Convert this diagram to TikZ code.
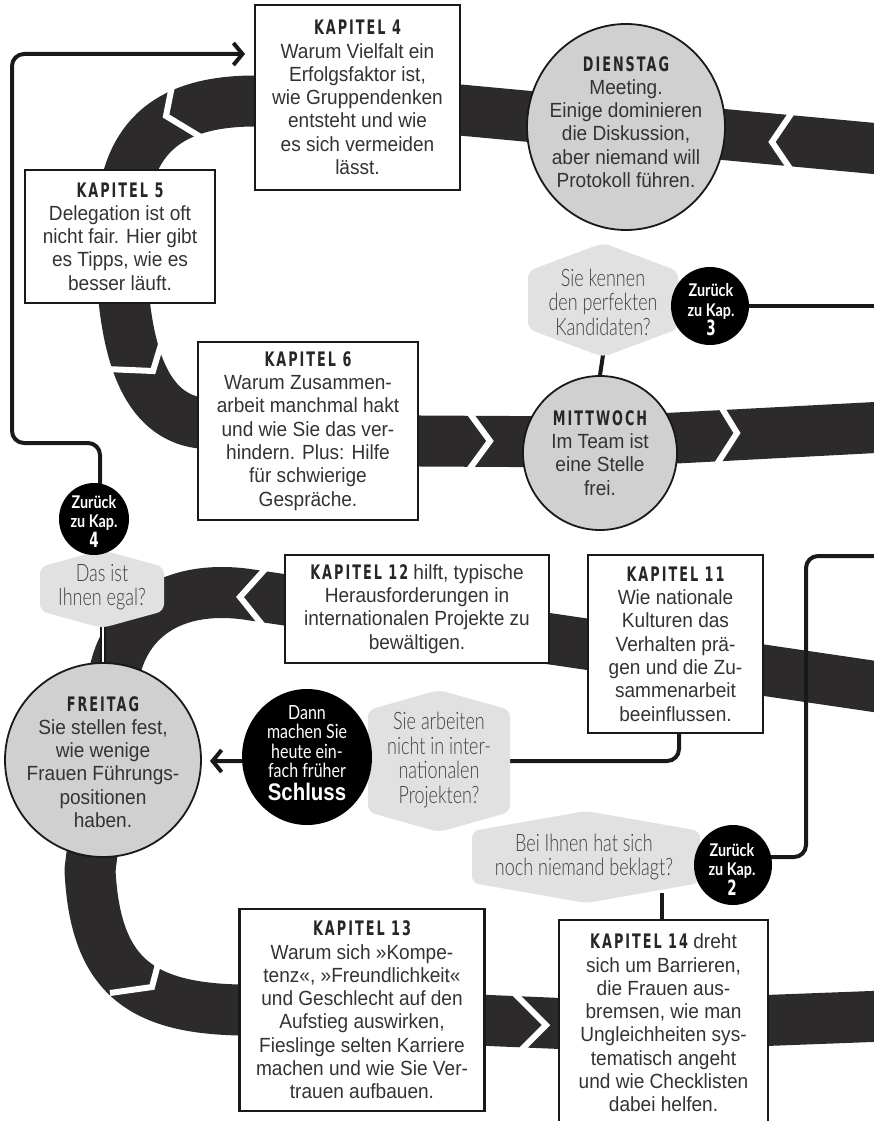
\documentclass[tikz,border=0pt]{standalone}
\usepackage{fontspec}
\setmainfont[FakeStretch=0.93]{Liberation Sans}
\newfontfamily\hdrfont[FakeStretch=0.64,LetterSpace=10]{DejaVu Sans}
\IfFontExistsTF{Lato Light}{\newfontfamily\handfont[FakeStretch=0.75]{Lato Light}}{\newfontfamily\handfont[FakeStretch=0.75]{Lato}}
\newfontfamily\handbold[FakeStretch=0.82]{Lato}
\newfontfamily\condfont[FakeStretch=0.85]{Liberation Sans}
\usetikzlibrary{shapes.geometric,arrows.meta}
\definecolor{band}{HTML}{2C2A2B}
\definecolor{textc}{HTML}{333333}
\definecolor{circgray}{HTML}{D0D0D0}
\definecolor{hexgray}{HTML}{E1E1E1}
\newcommand\bodyf{\fontsize{20.5}{23.3}\selectfont}
\newcommand\hd[1]{{\fontsize{20}{23.3}\hdrfont\bfseries\color{black!85}#1}}
\newcommand\hexa[5]{\fill[hexgray, rounded corners=7pt] ({#1},{#2-#4}) -- ({#1+#3},{#2-#4+#5}) -- ({#1+#3},{#2+#4-#5}) -- ({#1},{#2+#4}) -- ({#1-#3},{#2+#4-#5}) -- ({#1-#3},{#2-#4+#5}) -- cycle;}
\begin{document}
\begin{tikzpicture}[x=1pt,y=-1pt,
  bandline/.style={draw=band, line width=51pt, line cap=butt, line join=round},
  chev/.style={draw=white, line width=6pt, line join=miter, miter limit=10},
  conn/.style={draw=black!90, line width=4pt},
  box/.style={draw=black!90, line width=2.6pt, fill=white, inner sep=0pt, align=center, text=textc, font=\bodyf},
  gcirc/.style={ellipse, draw=black!90, line width=1.8pt, fill=circgray, inner sep=0pt},
  bcirc/.style={ellipse, fill=black, inner sep=0pt},
  txt/.style={align=center, text=textc, font=\bodyf, inner sep=0pt},
  htxt/.style={align=center, text=black!75, font={\fontsize{24}{24.5}\handfont}, inner sep=0pt},
  wtxt/.style={align=center, text=white, font={\fontsize{17.5}{19.5}\handbold\bfseries}, inner sep=0pt},
  barb/.style={-{Straight Barb[length=9pt,width=22pt]}}
]
\useasboundingbox (0,0) rectangle (874,1121);
\clip (0,0) rectangle (874,1121);

% ---- bands ----
\draw[bandline] (885,149.5) -- (460,110) -- (255,101) .. controls (155,101) and (121,150) .. (121,235) .. controls (121,340) and (140,415) .. (200,423) -- (420,441) -- (600,442) -- (885,427);
\draw[bandline] (885,688) -- (245,594) .. controls (165,584) and (117,625) .. (112,690) -- (90,870) .. controls (95,975) and (140,1008) .. (240,1010) -- (620,1026) -- (885,1016);

% ---- chevrons ----
\draw[chev] (795,108) -- (772,142) -- (795,176);
\draw[chev] (176,66) -- (166,116) -- (204,139);
\draw[chev] (166,328) -- (153,371) -- (106,369);
\draw[chev] (468,411) -- (490,441) -- (468,471);
\draw[chev] (718,402) -- (737,433) -- (717,464);
\draw[chev] (267,567) -- (240,597) -- (264,627);
\draw[chev] (163,945) -- (152,987) -- (110,993);
\draw[chev] (514,993) -- (546,1025) -- (516,1055);

% ---- coordinates ----
\coordinate (a4) at (245,54);
\coordinate (e3) at (885,306);
\coordinate (e2) at (885,556);
\coordinate (h1b) at (603,355);
\coordinate (h2b) at (103,626);
\coordinate (h4r) at (662,893);
\coordinate (k11b) at (679,733);
\coordinate (frin) at (210,761);
\coordinate (z2r) at (770,857);

% ---- circles (shapes only) ----
\node[gcirc, minimum width=198pt, minimum height=206pt] (di) at (626,127) {};
\node[gcirc, minimum width=154pt, minimum height=154pt] (mi) at (600,453) {};
\node[gcirc, minimum width=196pt, minimum height=194pt] (fr) at (103,760) {};

% ---- connectors ----
\draw[conn, rounded corners=12pt, barb] (100,484) -- (100,443) -- (12,443) -- (12,54) -- (a4);
\draw[conn, rounded corners=12pt, barb] (k11b) -- (679,761) -- (frin);
\draw[conn, rounded corners=12pt] (z2r) -- (806,857) -- (806,556) -- (e2);
\draw[conn] (710,306) -- (e3);
\draw[conn] (h1b) -- (mi.north);
\draw[black!90, line width=6.5pt] (h2b) -- (h2b |- fr.north);
\draw[white, line width=2.2pt] (h2b) -- (h2b |- fr.north);

% ---- hexagons ----
\hexa{603}{300}{75}{57}{28}
\hexa{102}{589}{62}{39}{17}
\hexa{439}{761}{71}{71}{20}
\hexa{586}{857}{114}{46}{20}
\draw[conn] (h4r) -- (662,922);

% ---- black circles ----
\node[bcirc, minimum width=78pt, minimum height=78pt] (z3) at (710,306) {};
\node[bcirc, minimum width=70pt, minimum height=72pt] (z4) at (94,519) {};
\node[bcirc, minimum width=78pt, minimum height=80pt] (z2) at (733,865) {};
\node[bcirc, minimum width=130pt, minimum height=136pt] (dann) at (307,757) {};

% ---- boxes ----
\node[box, minimum width=205pt, minimum height=185pt] (k4) at (357.5,97.5) {\hd{KAPITEL 4}\\Warum Vielfalt ein\\Erfolgsfaktor ist,\\wie Gruppendenken\\entsteht und wie\\es sich vermeiden\\lässt.};
\node[box, minimum width=190pt, minimum height=133pt] (k5) at (120,236.5) {\hd{KAPITEL 5}\\Delegation ist oft\\nicht fair. Hier gibt\\es Tipps, wie es\\besser läuft.};
\node[box, minimum width=220pt, minimum height=178pt] (k6) at (308,431) {\hd{KAPITEL 6}\\Warum Zusammen-\\arbeit manchmal hakt\\und wie Sie das ver-\\hindern. Plus: Hilfe\\für schwierige\\Gespräche.};
\node[box, minimum width=264pt, minimum height=108pt] (k12) at (417,609) {\hd{KAPITEL 12} hilft, typische\\Herausforderungen in\\internationalen Projekte zu\\bewältigen.};
\node[box, minimum width=175pt, minimum height=178pt] (k11) at (675.5,644) {\hd{KAPITEL 11}\\Wie nationale\\Kulturen das\\Verhalten prä-\\gen und die Zu-\\sammenarbeit\\beeinflussen.};
\node[box, minimum width=245pt, minimum height=202pt] (k13) at (362,1010) {\hd{KAPITEL 13}\\Warum sich »Kompe-\\tenz«, »Freundlichkeit«\\und Geschlecht auf den\\Aufstieg auswirken,\\Fieslinge selten Karriere\\machen und wie Sie Ver-\\trauen aufbauen.};
\node[box, minimum width=209pt, minimum height=206pt] (k14) at (663.5,1023) {\hd{KAPITEL 14} dreht\\sich um Barrieren,\\die Frauen aus-\\bremsen, wie man\\Ungleichheiten sys-\\tematisch angeht\\und wie Checklisten\\dabei helfen.};

% ---- circle texts ----
\node[txt] (dit) at (626,122) {\hd{DIENSTAG}\\Meeting.\\Einige dominieren\\die Diskussion,\\aber niemand will\\Protokoll führen.};
\node[txt] (mit) at (600,453) {\hd{MITTWOCH}\\Im Team ist\\eine Stelle\\frei.};
\node[txt] (frt) at (103,762) {\hd{FREITAG}\\Sie stellen fest,\\wie wenige\\Frauen Führungs-\\positionen\\haben.};

% ---- hex texts ----
\node[htxt] (h1t) at (603,302) {Sie kennen\\den perfekten\\Kandidaten?};
\node[htxt] (h2t) at (102,587) {Das ist\\Ihnen egal?};
\node[htxt] (h3t) at (439,760) {Sie arbeiten\\nicht in inter-\\nationalen\\Projekten?};
\node[htxt] (h4t) at (584,857) {Bei Ihnen hat sich\\noch niemand beklagt?};

% ---- black circle texts ----
\node[wtxt] (z3t) at (711,310) {Zurück\\zu Kap.\\{\fontsize{21}{19.5}\hdrfont\bfseries 3}};
\node[wtxt] (z4t) at (94,521) {Zurück\\zu Kap.\\{\fontsize{21}{19.5}\hdrfont\bfseries 4}};
\node[wtxt] (z2t) at (732,869) {Zurück\\zu Kap.\\{\fontsize{21}{19.5}\hdrfont\bfseries 2}};
\node[align=center, text=white, inner sep=0pt, font={\fontsize{19.5}{19.5}\handbold}] (dannt) at (307,753) {Dann\\machen Sie\\heute ein-\\fach früher\\[3pt]{\fontsize{24}{24}\condfont\bfseries Schluss}};
\end{tikzpicture}
\end{document}
